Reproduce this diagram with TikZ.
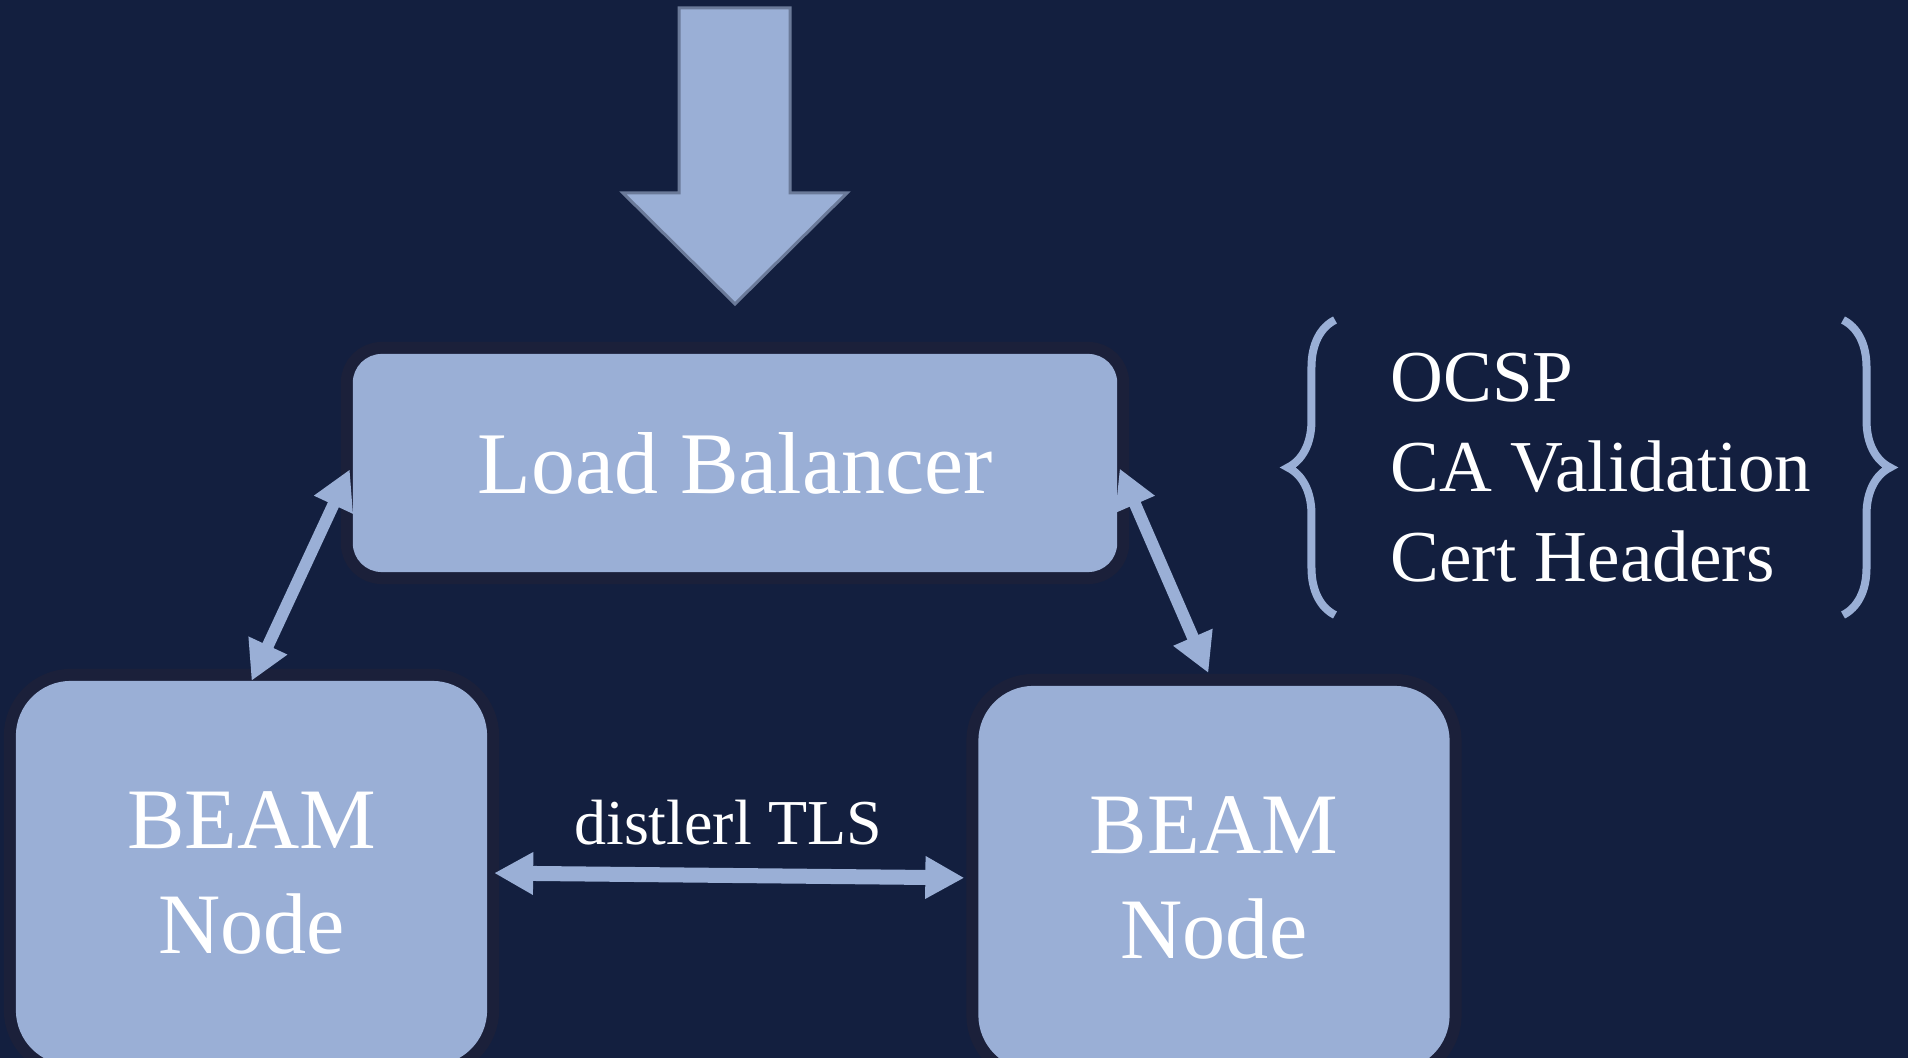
\documentclass[tikz,border=0pt]{standalone}
\usepackage{fontspec}
\setmainfont{Liberation Serif}
\usetikzlibrary{arrows.meta,decorations.pathreplacing}

\definecolor{navy}{HTML}{131F3F}
\definecolor{boxblue}{HTML}{9AAFD6}
\definecolor{ring}{HTML}{1B203A}
\definecolor{edgegrey}{HTML}{6B7A99}

\tikzset{
	box/.style={rounded corners=2.9mm, fill=boxblue, text=white, align=center,
		inner sep=0pt, outer sep=0pt, preaction={draw=ring, line width=2.4mm}},
	beambox/.style={box, rounded corners=5.5mm, minimum width=47.1mm, minimum height=38.4mm,
		font=\fontsize{24.5}{30}\selectfont},
	link/.style={draw=boxblue, line width=1.2mm,
		{Triangle[length=3.9mm,width=4mm]}-{Triangle[length=3.9mm,width=4mm]}},
	curly/.style={draw=boxblue, line width=0.8mm, decorate,
		decoration={brace, amplitude=4.7mm}},
}

\begin{document}
\begin{tikzpicture}[x=0.01cm, y=-0.01cm]
	\clip (0,0) rectangle (1908,1058);
	\fill[navy] (0,0) rectangle (1908,1058);

	% incoming traffic
	\draw[fill=boxblue, draw=edgegrey, line width=0.3mm]
		(679,8) -- (790,8) -- (790,193) -- (847,193) -- (735,304)
		-- (623,193) -- (679,193) -- cycle;

	\node[box, minimum width=76.4mm, minimum height=21.8mm,
		font=\fontsize{25}{30}\selectfont] (lb) at (735,463) {Load Balancer};

	\node[beambox] (beam1) at (251.5,873) {BEAM\\Node};
	\node[beambox] (beam2) at (1214,878) {BEAM\\Node};

	\draw[link, shorten <=0.7mm] (lb.west) -- (beam1.north);
	\draw[link, shorten <=0.6mm, shorten >=1.4mm] (lb.east) -- (beam2.north);
	\draw[link, line width=1.5mm, shorten <=0.7mm, shorten >=1.4mm] (beam1.east) -- (beam2.west);

	\node[text=white, anchor=base, font=\fontsize{18.2}{22}\selectfont]
		(tls) at (728,845) {distlerl TLS};

	% checks done at the balancer
	\node[text=white, align=left, anchor=west, inner sep=0pt,
		font=\fontsize{20.8}{25.6}\selectfont]
		(list) at (1390,468) {OCSP\\CA Validation\\Cert Headers};
	\draw[curly] (1335,615) -- (1335,320);
	\draw[curly] (1843,320) -- (1843,615);

\end{tikzpicture}
\end{document}
